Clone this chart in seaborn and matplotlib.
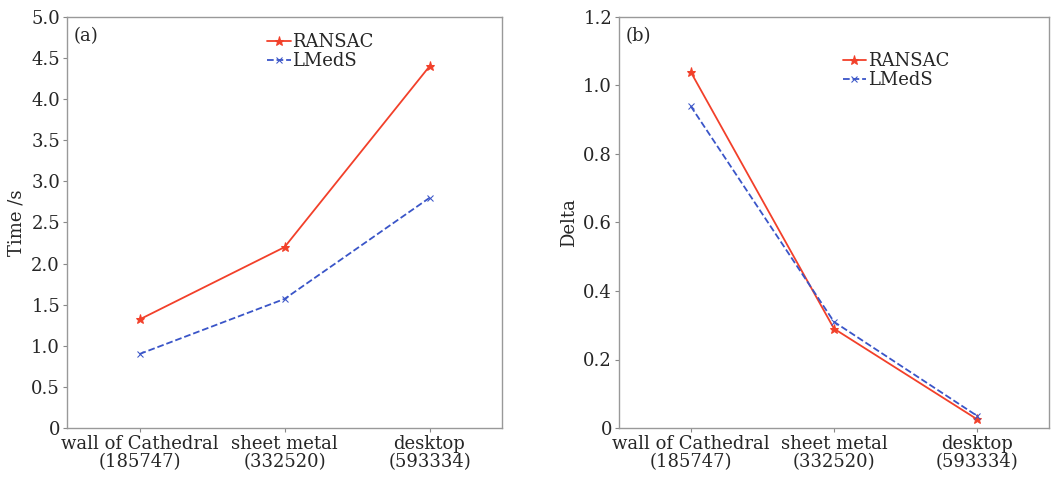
import pandas as pd
import matplotlib
matplotlib.use("Agg")
import matplotlib.pyplot as plt
import seaborn as sns

categories = ['wall of Cathedral\n(185747)', 'sheet metal\n(332520)', 'desktop\n(593334)']
time_ransac = [1.32, 2.20, 4.40]
time_lmeds = [0.90, 1.57, 2.80]
delta_ransac = [1.04, 0.29, 0.025]
delta_lmeds = [0.94, 0.31, 0.035]

time_ticks = [0, 0.5, 1.0, 1.5, 2.0, 2.5, 3.0, 3.5, 4.0, 4.5, 5.0]
delta_ticks = [0, 0.2, 0.4, 0.6, 0.8, 1.0, 1.2]

sns.set_style('white')
plt.rcParams['font.family'] = ['DejaVu Serif']
plt.rcParams['mathtext.fontset'] = 'dejavuserif'

red = '#f2402a'
blue = '#3a55c8'


def panel(ax, ransac, lmeds, ticks, ylabel, tag, leg_loc):
    pos = list(range(1, len(categories) + 1))
    df = pd.DataFrame({'x': pos + pos,
                       'y': ransac + lmeds,
                       'method': ['RANSAC'] * 3 + ['LMedS'] * 3})
    sns.lineplot(data=df[df.method == 'RANSAC'], x='x', y='y', ax=ax, color=red,
                 marker='*', markersize=6.5, linewidth=1.3, label='RANSAC',
                 markeredgecolor=red)
    sns.lineplot(data=df[df.method == 'LMedS'], x='x', y='y', ax=ax, color=blue,
                 marker='x', markersize=5, linewidth=1.3, linestyle='--',
                 label='LMedS', markeredgecolor=blue, dashes=(3, 2))
    ax.set_xlim(0.5, 3.5)
    ax.set_ylim(ticks[0], ticks[-1])
    ax.set_xticks(pos)
    ax.set_xticklabels(categories, fontsize=13, linespacing=1.0)
    ax.set_yticks(ticks)
    ax.set_yticklabels(['0'] + [f'{t:.1f}' for t in ticks[1:]], fontsize=13)
    ax.set_xlabel('')
    ax.set_ylabel(ylabel, fontsize=13)
    ax.tick_params(axis='both', direction='out', length=3, width=0.8,
                   color='#888888', pad=2, bottom=True, left=True)
    for s in ax.spines.values():
        s.set_color('#999999')
        s.set_linewidth(1.0)
    ax.text(0.015, 0.975, tag, transform=ax.transAxes, fontsize=13,
            ha='left', va='top')
    ax.legend(loc='upper left', bbox_to_anchor=leg_loc, frameon=False,
              fontsize=13, handlelength=1.3, handletextpad=0.1,
              labelspacing=0.05, borderpad=0, borderaxespad=0)


fig = plt.figure(figsize=(10.51, 4.79), dpi=100)
ax1 = fig.add_axes([67 / 1051, 1 - 428 / 479, 435 / 1051, 411 / 479])
ax2 = fig.add_axes([619 / 1051, 1 - 428 / 479, 430 / 1051, 411 / 479])

panel(ax1, time_ransac, time_lmeds, time_ticks, 'Time /s', '(a)', (0.46, 0.96))
panel(ax2, delta_ransac, delta_lmeds, delta_ticks, 'Delta', '(b)', (0.52, 0.915))

fig.savefig('out.png', dpi=100)
